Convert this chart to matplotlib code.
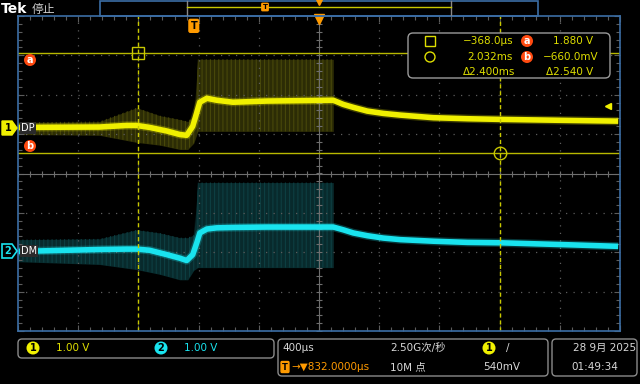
import numpy as np
import matplotlib.pyplot as plt
from matplotlib.patches import FancyBboxPatch, Rectangle, Polygon, Circle

plt.rcParams['font.family'] = ['DejaVu Sans', 'Noto Sans CJK SC']
plt.rcParams['hatch.linewidth'] = 0.8

# time in µs from trigger, volts from each channel's ground (1 V/div)
t_trace = [-1173, -627, -447, -380, -293, -180, -93, -47, -7, 20, 40, 87, 153, 260,
           487, 927, 993, 1060, 1153, 1260, 1373, 1593, 1820, 2040, 2487, 2820]
v_dp = [0.0, 0.01, 0.05, 0.05, 0.0, -0.09, -0.18, -0.2, 0.03, 0.38, 0.64, 0.74, 0.69,
        0.64, 0.67, 0.69, 0.585, 0.51, 0.415, 0.356, 0.313, 0.247, 0.221, 0.204, 0.178, 0.16]
v_dm = [-0.02, 0.03, 0.04, 0.04, 0.01, -0.1, -0.19, -0.25, -0.1, 0.2, 0.45, 0.55, 0.58,
        0.59, 0.6, 0.6, 0.53, 0.45, 0.38, 0.32, 0.28, 0.24, 0.21, 0.2, 0.15, 0.11]

# noise envelope while the bus is active
t_env = [-1173, -627, -380, -227, -93, -40, 0, 27, 73, 927]
dp_hi = [0.13, 0.15, 0.5, 0.3, 0.2, 0.15, 0.3, 1.73, 1.73, 1.73]
dp_lo = [-0.18, -0.2, -0.38, -0.45, -0.56, -0.56, -0.4, -0.1, -0.1, -0.1]
dm_hi = [0.28, 0.3, 0.53, 0.45, 0.33, 0.33, 0.4, 1.73, 1.73, 1.73]
dm_lo = [-0.28, -0.35, -0.48, -0.6, -0.74, -0.74, -0.5, -0.43, -0.43, -0.43]

cursor_t = [-368.0, 2032.0]
cursor_v = [1.880, -0.660]
trig_level = 0.540
ch2_offset = -3.13   # CH2 ground position, in CH1 volts
t_center = 832.0
v_center = -1.17

YEL = '#f0f000'
CYA = '#19e3ee'
ORG = '#ff9a00'
RED = '#ff4a10'
GRID = '#5c5c5c'
BLUE = '#3b6ea5'

fig = plt.figure(figsize=(6.4, 3.84), dpi=100, facecolor='black')
ax = fig.add_axes([18 / 640, 1 - 331 / 384, 602 / 640, 315 / 384])
ax.set_facecolor('black')
x0, x1 = t_center - 2000, t_center + 2000
y0, y1 = v_center - 4, v_center + 4
ax.set_xlim(x0, x1)
ax.set_ylim(y0, y1)
for s in ax.spines.values():
    s.set_color(BLUE)
    s.set_linewidth(1.2)

ax.set_xticks(np.arange(x0, x1 + 1, 400))
ax.set_xticks(np.arange(x0, x1 + 1, 80), minor=True)
ax.set_yticks(np.arange(y0, y1 + 0.01, 1))
ax.set_yticks(np.arange(y0, y1 + 0.01, 0.2), minor=True)
ax.tick_params(which='both', direction='in', colors=GRID, top=True, right=True,
               labelbottom=False, labelleft=False, length=3, width=0.8)
ax.tick_params(which='major', length=4)

for k in range(1, 10):
    if k == 5:
        continue
    ax.axvline(x0 + 400 * k, color=GRID, lw=0.9, ls=(0, (1, 5)))
for k in range(1, 8):
    if k == 4:
        continue
    ax.axhline(y0 + k, color=GRID, lw=0.9, ls=(0, (1, 5)))
ax.axvline(t_center, color='#6e6e6e', lw=0.8)
ax.axhline(v_center, color='#6e6e6e', lw=0.8)
ax.plot(np.arange(x0, x1, 80), [v_center] * 50, ls='none', marker='|', ms=4, color='#6e6e6e', mew=0.8)
ax.plot([t_center] * 40, np.arange(y0, y1, 0.2), ls='none', marker='_', ms=4, color='#6e6e6e', mew=0.8)

# envelopes
dm_hi2 = [v + ch2_offset for v in dm_hi]
dm_lo2 = [v + ch2_offset for v in dm_lo]
ax.fill_between(t_env, dp_lo, dp_hi, color='#2c2c05', lw=0)
ax.fill_between(t_env, dp_lo, dp_hi, facecolor='none', edgecolor='#48480a', hatch='||||', lw=0)
ax.fill_between(t_env, dm_lo2, dm_hi2, color='#082a2c', lw=0)
ax.fill_between(t_env, dm_lo2, dm_hi2, facecolor='none', edgecolor='#0d3f42', hatch='||||', lw=0)

# traces
v_dm2 = [v + ch2_offset for v in v_dm]
ax.plot(t_trace, v_dp, color=YEL, lw=6, alpha=0.25, solid_capstyle='butt', solid_joinstyle='round')
ax.plot(t_trace, v_dp, color=YEL, lw=4, solid_capstyle='butt', solid_joinstyle='round')
ax.plot(t_trace, v_dm2, color=CYA, lw=6, alpha=0.25, solid_capstyle='butt', solid_joinstyle='round')
ax.plot(t_trace, v_dm2, color=CYA, lw=4, solid_capstyle='butt', solid_joinstyle='round')

# cursors
for v in cursor_v:
    ax.axhline(v, color='#b8b800', lw=1)
for t in cursor_t:
    ax.axvline(t, color='#c8c800', lw=1, ls=(0, (3, 2)))
ax.plot(cursor_t[0], cursor_v[0], marker='s', ms=9, mfc='none', mec='#c8c800', mew=1)
ax.plot(cursor_t[1], cursor_v[1], marker='o', ms=9, mfc='none', mec='#c8c800', mew=1)

# trigger markers
ax.plot(t_center, y1 - 0.08, marker='v', ms=7, color=ORG, clip_on=False)
ax.text(0, y1 - 0.25, 'T', color='black', fontsize=7, fontweight='bold', ha='center', va='center',
        bbox=dict(boxstyle='round,pad=0.15', fc=ORG, ec=ORG))
ax.plot(x1 - 80, trig_level, marker='<', ms=5, color=YEL)

# overlay for screen furniture, in pixels
ov = fig.add_axes([0, 0, 1, 1], zorder=5)
ov.set_xlim(0, 640)
ov.set_ylim(384, 0)
ov.axis('off')
ov.patch.set_alpha(0)

ov.text(1, 9, 'Tek', color='white', fontsize=10, fontweight='bold', va='center')
ov.text(32, 9, '停止', color='#cfcfcf', fontsize=8.5, va='center')
ov.add_patch(Rectangle((100, 0.5), 438, 15, fc='none', ec=BLUE, lw=1.2))
ov.plot([187, 187], [1, 15], color='#888888', lw=1)
ov.plot([451, 451], [1, 15], color='#888888', lw=1)
ov.plot([187, 451], [7, 7], color='#c8c800', lw=1)
ov.text(265, 7, 'T', color='black', fontsize=5, fontweight='bold', ha='center', va='center',
        bbox=dict(boxstyle='round,pad=0.1', fc=ORG, ec=ORG))
ov.plot(319, 2, marker='v', ms=4, color=ORG)

# channel markers
ov.add_patch(Polygon([(2, 121), (12, 121), (17, 128), (12, 135), (2, 135)], fc=YEL, ec=YEL))
ov.text(8, 128, '1', color='black', fontsize=7, fontweight='bold', ha='center', va='center')
ov.text(21, 128, 'DP', color='white', fontsize=7, va='center',
        bbox=dict(boxstyle='square,pad=0.1', fc='#2a2a2a', ec='none'))
ov.add_patch(Polygon([(2, 244), (12, 244), (17, 251), (12, 258), (2, 258)], fc='black', ec=CYA, lw=1.2))
ov.text(8, 251, '2', color=CYA, fontsize=7, fontweight='bold', ha='center', va='center')
ov.text(21, 251, 'DM', color='white', fontsize=7, va='center',
        bbox=dict(boxstyle='square,pad=0.1', fc='#2a2a2a', ec='none'))


def badge(x, y, s, fc, tc='white', r=6, fs=7):
    ov.add_patch(Circle((x, y), r, fc=fc, ec='none'))
    ov.text(x, y, s, color=tc, fontsize=fs, fontweight='bold', ha='center', va='center')


badge(30, 60, 'a', RED)
badge(30, 146, 'b', RED)

# cursor readout
ov.add_patch(FancyBboxPatch((408, 33), 202, 45, boxstyle='round,pad=0,rounding_size=5',
                            fc='black', ec='#9a9a9a', lw=1))
RT = '#dede00'
ov.add_patch(Rectangle((425, 36), 10, 10, fc='none', ec=RT, lw=1))
ov.add_patch(Circle((430, 57), 5, fc='none', ec=RT, lw=1))
rows = [(41, '−368.0µs', 'a', '1.880 V'), (57, '2.032ms', 'b', '−660.0mV')]
for y, tt, lab, vv in rows:
    ov.text(513, y, tt, color=RT, fontsize=7.5, ha='right', va='center')
    badge(527, y, lab, RED)
    ov.text(598 if 'm' in vv else 593, y, vv, color=RT, fontsize=7.5, ha='right', va='center')
ov.text(515, 72, 'Δ2.400ms', color=RT, fontsize=7.5, ha='right', va='center')
ov.text(593, 72, 'Δ2.540 V', color=RT, fontsize=7.5, ha='right', va='center')

# status bar
EC = '#8a8a8a'
ov.add_patch(FancyBboxPatch((18, 339), 256, 19, boxstyle='round,pad=0,rounding_size=4', fc='black', ec=EC, lw=1))
ov.add_patch(FancyBboxPatch((278, 339), 270, 37, boxstyle='round,pad=0,rounding_size=4', fc='black', ec=EC, lw=1))
ov.add_patch(FancyBboxPatch((552, 339), 85, 37, boxstyle='round,pad=0,rounding_size=4', fc='black', ec=EC, lw=1))
badge(33, 348, '1', YEL, tc='black', r=6.5)
ov.text(56, 348, '1.00 V', color='#e0e000', fontsize=7.5, va='center')
badge(161, 348, '2', CYA, tc='black', r=6.5)
ov.text(184, 348, '1.00 V', color=CYA, fontsize=7.5, va='center')
TX = '#d8d8d8'
ov.text(282, 348, '400µs', color=TX, fontsize=7.5, va='center')
ov.text(390, 348, '2.50G次/秒', color=TX, fontsize=7.5, va='center')
badge(489, 348, '1', YEL, tc='black', r=6.5)
ov.text(506, 348, '/', color=TX, fontsize=7.5, va='center')
ov.text(285, 367, 'T', color='black', fontsize=6, fontweight='bold', ha='center', va='center',
        bbox=dict(boxstyle='round,pad=0.12', fc=ORG, ec=ORG))
ov.text(291, 367, '→▼832.0000µs', color=ORG, fontsize=7.5, va='center')
ov.text(390, 367, '10M 点', color=TX, fontsize=7.5, va='center')
ov.text(483, 367, '540mV', color=TX, fontsize=7.5, va='center')
ov.text(636, 348, '28 9月 2025', color=TX, fontsize=7.5, ha='right', va='center')
ov.text(571, 367, '01:49:34', color=TX, fontsize=7.5, va='center')

fig.savefig('out.png', dpi=100, facecolor='black')
